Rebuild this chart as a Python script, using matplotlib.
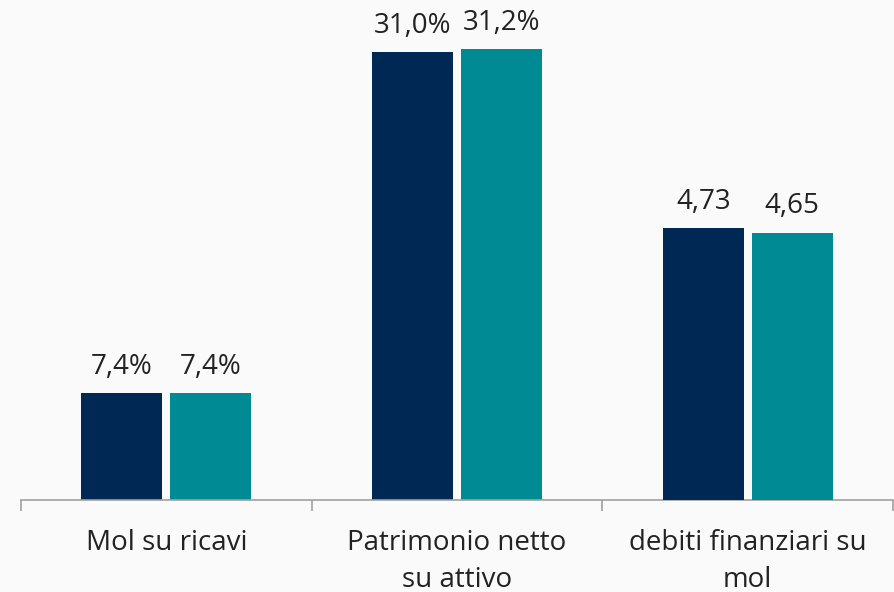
import matplotlib.pyplot as plt
import numpy as np

plt.rcParams['font.family'] = ['Open Sans', 'DejaVu Sans']

categories = ['Mol su ricavi', 'Patrimonio netto\nsu attivo', 'debiti finanziari su\nmol']
# percent ratios on the left scale, debiti/mol on its own scale
serie_a = [7.4, 31.0, 4.73]
serie_b = [7.4, 31.2, 4.65]
labels_a = ['7,4%', '31,0%', '4,73']
labels_b = ['7,4%', '31,2%', '4,65']
on_second_axis = [False, False, True]

dark = '#002855'
teal = '#008A94'
text_col = '#222222'

fig = plt.figure(figsize=(8.95, 5.92), dpi=100)
fig.patch.set_facecolor('#FAFAFA')
ax = fig.add_axes([21 / 895, 92 / 592, 872 / 895, 491 / 592])
ax2 = ax.twinx()
ax.set_facecolor('none')
ax2.set_facecolor('none')

ax.set_ylim(0, 34)
ax2.set_ylim(0, 8.55)
ax.set_xlim(-0.5, 2.5)

w = 0.278
off = 0.153
x = np.arange(len(categories))

for i in range(len(categories)):
    a = ax2 if on_second_axis[i] else ax
    a.bar(x[i] - off, serie_a[i], w, color=dark)
    a.bar(x[i] + off, serie_b[i], w, color=teal)
    a.annotate(labels_a[i], (x[i] - off, serie_a[i]), xytext=(0, 9),
               textcoords='offset points', ha='center', va='bottom',
               fontsize=20, color=text_col)
    a.annotate(labels_b[i], (x[i] + off, serie_b[i]), xytext=(0, 9),
               textcoords='offset points', ha='center', va='bottom',
               fontsize=20, color=text_col)

for a in (ax, ax2):
    for s in ['top', 'right', 'left']:
        a.spines[s].set_visible(False)
    a.set_yticks([])
ax2.spines['bottom'].set_visible(False)
ax.spines['bottom'].set_color('#A0A0A0')
ax.spines['bottom'].set_linewidth(1.2)

ax.set_xticks(x)
ax.set_xticklabels(categories, fontsize=20, color=text_col, linespacing=1.4)
ax.tick_params(axis='x', which='major', length=0, pad=21)
ax.set_xticks([-0.5, 0.5, 1.5, 2.5], minor=True)
ax.tick_params(axis='x', which='minor', length=8, color='#A0A0A0', width=1.2)

plt.savefig('out.png', dpi=100, facecolor=fig.get_facecolor())
